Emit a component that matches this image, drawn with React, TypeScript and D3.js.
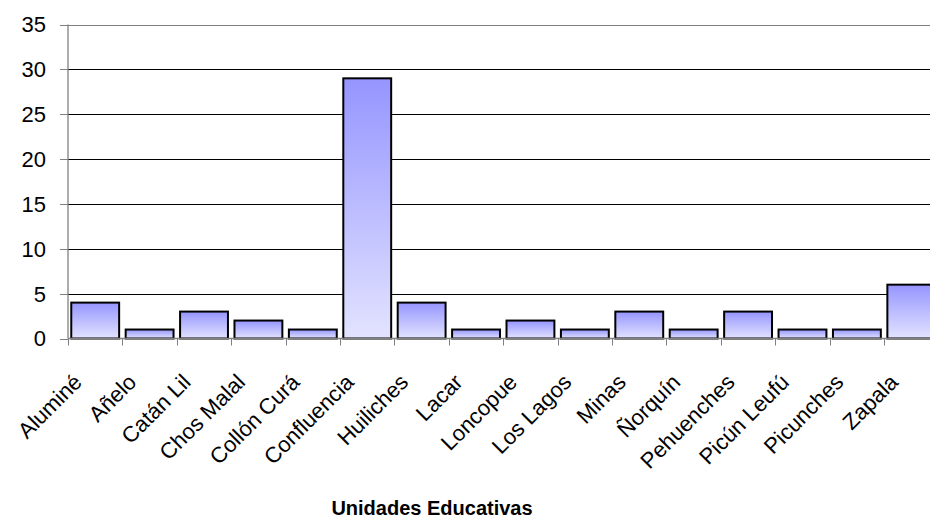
import React from "react";
import * as d3 from "d3";

const categories = [
  "Aluminé",
  "Añelo",
  "Catán Lil",
  "Chos Malal",
  "Collón Curá",
  "Confluencia",
  "Huiliches",
  "Lacar",
  "Loncopue",
  "Los Lagos",
  "Minas",
  "Ñorquín",
  "Pehuenches",
  "Picún Leufú",
  "Picunches",
  "Zapala",
];
const values = [4, 1, 3, 2, 1, 29, 4, 1, 2, 1, 3, 1, 3, 1, 1, 6];
const yTicks = [0, 5, 10, 15, 20, 25, 30, 35];
const xTitle = "Unidades Educativas";

const width = 930;
const height = 519;
// plot area runs past the right edge of the picture (it is cropped)
const left = 68;
const right = 938.5;
const top = 24.5;
const bottom = 338.5;
const font = "'Liberation Sans', Arial, sans-serif";

export default function App() {
  const x = d3
    .scaleBand<string>()
    .domain(categories)
    .range([left, right])
    .paddingInner(0.12)
    .paddingOuter(0.06);
  const y = d3.scaleLinear().domain([0, 35]).range([bottom, top]);

  // category boundaries for the tick marks
  const step = (right - left) / categories.length;
  const bounds = d3.range(categories.length + 1).map((i) => left + i * step);

  return (
    <svg
      width={width}
      height={height}
      style={{ position: "absolute", left: 0, top: 0, background: "#fff" }}
      fontFamily={font}
    >
      <defs>
        <linearGradient id="barFill" x1="0" y1="0" x2="0" y2="1">
          <stop offset="0%" stopColor="#9595ff" />
          <stop offset="100%" stopColor="#e3e3ff" />
        </linearGradient>
      </defs>

      {/* gridlines */}
      {yTicks
        .filter((t) => t > 0)
        .map((t) => (
          <line
            key={t}
            x1={left}
            x2={right}
            y1={Math.round(y(t)) + 0.5}
            y2={Math.round(y(t)) + 0.5}
            stroke={t === 35 ? "#808080" : "#000"}
            strokeWidth={1}
          />
        ))}

      {/* y axis */}
      <line x1={left} x2={left} y1={top} y2={bottom} stroke="#808080" strokeWidth={1.3} />
      {yTicks.map((t) => (
        <g key={t}>
          <line
            x1={left - 8}
            x2={left}
            y1={Math.round(y(t)) + 0.5}
            y2={Math.round(y(t)) + 0.5}
            stroke="#808080"
          />
          <text
            x={46}
            y={y(t)}
            dy="0.36em"
            textAnchor="end"
            fontSize={22}
            fill="#000"
          >
            {t}
          </text>
        </g>
      ))}

      {/* bars */}
      {categories.map((c, i) => (
        <rect
          key={c}
          x={x(c)}
          y={y(values[i])}
          width={x.bandwidth()}
          height={bottom - y(values[i])}
          fill="url(#barFill)"
          stroke="#000"
          strokeWidth={2}
        />
      ))}

      {/* x axis */}
      <line x1={left} x2={right} y1={bottom} y2={bottom} stroke="#808080" strokeWidth={1.3} />
      {bounds.map((b, i) => (
        <line
          key={i}
          x1={Math.round(b) + 0.5}
          x2={Math.round(b) + 0.5}
          y1={bottom}
          y2={bottom + 7}
          stroke="#808080"
        />
      ))}

      {categories.map((c) => {
        const cx = (x(c) ?? 0) + x.bandwidth() / 2;
        return (
          <text
            key={c}
            transform={`translate(${cx - 12},${bottom + 45}) rotate(-45)`}
            textAnchor="end"
            fontSize={22}
            fill="#000"
          >
            {c}
          </text>
        );
      })}

      <text
        x={432}
        y={515}
        textAnchor="middle"
        fontSize={20}
        fontWeight="bold"
        fill="#000"
      >
        {xTitle}
      </text>
    </svg>
  );
}
